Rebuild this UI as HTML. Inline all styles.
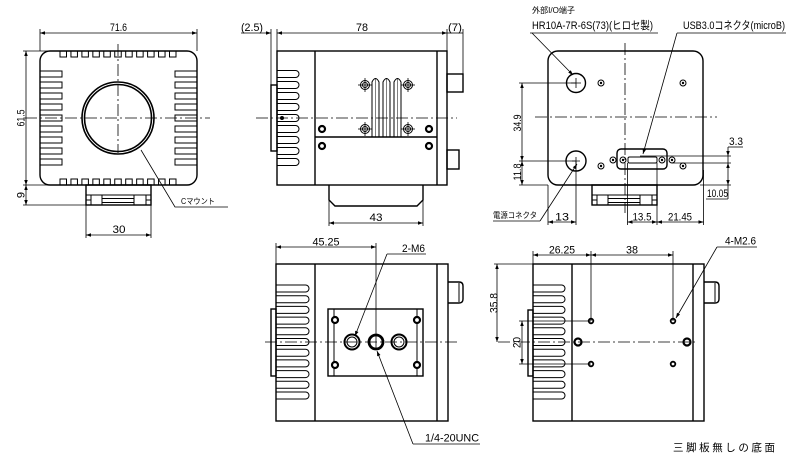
<!DOCTYPE html>
<html>
<head>
<meta charset="utf-8">
<style>
html,body{margin:0;padding:0;background:#fff;}
svg{display:block;}
.o{fill:none;stroke:#000;stroke-width:1.4;}
.t{fill:none;stroke:#000;stroke-width:1.0;}
.c{fill:none;stroke:#000;stroke-width:0.8;stroke-dasharray:12 3 2 3;}
.d{fill:none;stroke:#000;stroke-width:0.8;}
text{font-family:"Liberation Sans","Noto Sans CJK JP",sans-serif;font-size:11px;fill:#000;}
.s{font-size:8px;}
</style>
</head>
<body>
<svg width="800" height="457" viewBox="0 0 800 457" xmlns="http://www.w3.org/2000/svg">
<defs>
<marker id="a" viewBox="0 0 10 10" refX="10" refY="5" markerWidth="6" markerHeight="5" markerUnits="userSpaceOnUse" orient="auto-start-reverse"><path d="M0,1.5 L10,5 L0,8.5 z" fill="#000"/></marker>
<g id="scr2"><circle r="4.5" class="t"/><circle r="2.5" class="t"/><line x1="-7" y1="0" x2="7" y2="0" class="d"/><line x1="0" y1="-7" x2="0" y2="7" class="d"/></g>
<g id="blk"><circle r="3" fill="#fff" stroke="#000" stroke-width="2.2"/></g>
<g id="sm"><circle r="3" class="t"/><circle r="1.2" fill="#000"/></g>
<rect id="ts" width="6.5" height="6" class="t"/>
<rect id="ss" width="22" height="6" class="t"/>
<path id="sl" d="M0,0 H18.5 A3.5,3.5 0 0 1 18.5,7 H0" class="t"/>
<path id="bl" d="M0,0 H29.5 A3.5,3.5 0 0 1 29.5,7 H0" class="t"/>
<path id="br" d="M0,0 H28.5 A3.5,3.5 0 0 1 28.5,7 H0" class="t"/>
<g id="base">
<rect x="0" y="0" width="65" height="20" class="o"/>
<line x1="0" y1="10" x2="65" y2="10" class="t"/>
<line x1="5" y1="10" x2="5" y2="20" class="t"/>
<line x1="16" y1="10" x2="16" y2="20" class="t"/>
<line x1="48" y1="10" x2="48" y2="20" class="t"/>
<line x1="60" y1="10" x2="60" y2="20" class="t"/>
<line x1="16" y1="13.5" x2="48" y2="13.5" class="t"/>
<line x1="16" y1="17.5" x2="48" y2="17.5" class="t"/>
<line x1="0" y1="15" x2="5" y2="15" class="t"/>
<line x1="60" y1="15" x2="65" y2="15" class="t"/>
</g>
</defs>

<!-- ============ FRONT VIEW ============ -->
<rect x="40" y="51" width="157" height="134" rx="10" class="o"/>
<g>
<use href="#ts" x="60" y="51"/><use href="#ts" x="70.95" y="51"/><use href="#ts" x="81.9" y="51"/><use href="#ts" x="92.85" y="51"/><use href="#ts" x="103.8" y="51"/><use href="#ts" x="114.75" y="51"/><use href="#ts" x="125.7" y="51"/><use href="#ts" x="136.65" y="51"/><use href="#ts" x="147.6" y="51"/><use href="#ts" x="158.55" y="51"/><use href="#ts" x="169.5" y="51"/>
<use href="#ts" x="60" y="179"/><use href="#ts" x="70.95" y="179"/><use href="#ts" x="81.9" y="179"/><use href="#ts" x="92.85" y="179"/><use href="#ts" x="103.8" y="179"/><use href="#ts" x="114.75" y="179"/><use href="#ts" x="125.7" y="179"/><use href="#ts" x="136.65" y="179"/><use href="#ts" x="147.6" y="179"/><use href="#ts" x="158.55" y="179"/><use href="#ts" x="169.5" y="179"/>
<use href="#ss" x="40" y="71"/><use href="#ss" x="40" y="82"/><use href="#ss" x="40" y="93"/><use href="#ss" x="40" y="104"/><use href="#ss" x="40" y="115"/><use href="#ss" x="40" y="126"/><use href="#ss" x="40" y="137"/><use href="#ss" x="40" y="148"/><use href="#ss" x="40" y="159"/>
<use href="#ss" x="175" y="71"/><use href="#ss" x="175" y="82"/><use href="#ss" x="175" y="93"/><use href="#ss" x="175" y="104"/><use href="#ss" x="175" y="115"/><use href="#ss" x="175" y="126"/><use href="#ss" x="175" y="137"/><use href="#ss" x="175" y="148"/><use href="#ss" x="175" y="159"/>
</g>
<circle cx="118" cy="118" r="36" fill="none" stroke="#000" stroke-width="1.6"/>
<circle cx="118" cy="118" r="33.5" fill="none" stroke="#000" stroke-width="1.6"/>
<line x1="25" y1="118" x2="210" y2="118" class="c"/>
<line x1="118" y1="44" x2="118" y2="153" class="c"/>
<use href="#base" x="86" y="185"/>
<!-- dims front -->
<line x1="40" y1="29" x2="40" y2="51" class="d"/>
<line x1="197" y1="29" x2="197" y2="51" class="d"/>
<line x1="40" y1="33" x2="197" y2="33" class="d" marker-start="url(#a)" marker-end="url(#a)"/>
<text x="118.5" y="31" text-anchor="middle" textLength="17" lengthAdjust="spacingAndGlyphs">71.6</text>
<line x1="23" y1="51" x2="60" y2="51" class="d"/>
<line x1="23" y1="185" x2="86" y2="185" class="d"/>
<line x1="23" y1="205" x2="86" y2="205" class="d"/>
<line x1="26" y1="51" x2="26" y2="185" class="d" marker-start="url(#a)" marker-end="url(#a)"/>
<line x1="26" y1="185" x2="26" y2="205" class="d" marker-start="url(#a)" marker-end="url(#a)"/>
<text transform="translate(24.5,118) rotate(-90)" text-anchor="middle" textLength="17" lengthAdjust="spacingAndGlyphs">61.5</text>
<text transform="translate(24.5,195) rotate(-90)" text-anchor="middle">9</text>
<line x1="86" y1="205" x2="86" y2="238" class="d"/>
<line x1="151" y1="205" x2="151" y2="238" class="d"/>
<line x1="86" y1="235" x2="151" y2="235" class="d" marker-start="url(#a)" marker-end="url(#a)"/>
<text x="119" y="233" text-anchor="middle" textLength="13" lengthAdjust="spacingAndGlyphs">30</text>
<polyline points="141,150 175,207 228,207" class="d"/>
<text x="181" y="204" class="s" textLength="34" lengthAdjust="spacingAndGlyphs">Cマウント</text>

<!-- ============ SIDE VIEW ============ -->
<rect x="277" y="51" width="170" height="134" class="o"/>
<line x1="315" y1="51" x2="315" y2="185" class="o"/>
<line x1="437" y1="51" x2="437" y2="185" class="o"/>
<line x1="315" y1="137" x2="437" y2="137" class="o"/>
<rect x="271" y="85" width="6" height="66" class="o"/>
<g>
<use href="#sl" x="277" y="70.5"/><use href="#sl" x="277" y="81.5"/><use href="#sl" x="277" y="92.5"/><use href="#sl" x="277" y="103.5"/><use href="#sl" x="277" y="114.5"/><use href="#sl" x="277" y="125.5"/><use href="#sl" x="277" y="136.5"/><use href="#sl" x="277" y="147.5"/><use href="#sl" x="277" y="158.5"/>
</g>
<line x1="256" y1="118" x2="457" y2="118" class="c"/>
<circle cx="282" cy="118" r="2" fill="#000"/>
<use href="#scr2" x="365" y="85"/><use href="#scr2" x="408" y="85"/><use href="#scr2" x="365" y="129"/><use href="#scr2" x="408" y="129"/>
<use href="#blk" x="322" y="129"/><use href="#blk" x="429" y="129"/><use href="#blk" x="322" y="146"/><use href="#blk" x="429" y="146"/>
<path d="M372,137 V82 Q375.5,75 379,82 V137 M383,137 V82 Q386.5,75 390,82 V137 M394,137 V82 Q397.5,75 401,82 V137" class="t"/>
<path d="M375.5,78 V137 M386.5,78 V137 M397.5,78 V137" fill="none" stroke="#000" stroke-width="0.5"/>
<rect x="447" y="74" width="16" height="18" class="o"/>
<rect x="447" y="150" width="12" height="19" class="o"/>
<path d="M329,185 V200 L335,206 H417 L423,200 V185" class="o"/>
<!-- dims side -->
<line x1="271" y1="29" x2="271" y2="85" class="d"/>
<line x1="277" y1="29" x2="277" y2="51" class="d"/>
<line x1="447" y1="29" x2="447" y2="51" class="d"/>
<line x1="463" y1="29" x2="463" y2="74" class="d"/>
<line x1="241" y1="33" x2="271" y2="33" class="d" marker-end="url(#a)"/>
<line x1="277" y1="33" x2="447" y2="33" class="d" marker-start="url(#a)" marker-end="url(#a)"/>
<line x1="447" y1="33" x2="463" y2="33" class="d"/>
<text x="241" y="31" textLength="22" lengthAdjust="spacingAndGlyphs">(2.5)</text>
<text x="362" y="31" text-anchor="middle" textLength="12" lengthAdjust="spacingAndGlyphs">78</text>
<text x="448" y="31" textLength="14" lengthAdjust="spacingAndGlyphs">(7)</text>
<line x1="329" y1="200" x2="329" y2="226" class="d"/>
<line x1="423" y1="200" x2="423" y2="226" class="d"/>
<line x1="329" y1="223" x2="423" y2="223" class="d" marker-start="url(#a)" marker-end="url(#a)"/>
<text x="376" y="221" text-anchor="middle" textLength="13" lengthAdjust="spacingAndGlyphs">43</text>

<!-- ============ BACK VIEW ============ -->
<rect x="548" y="51" width="155" height="134" rx="10" class="o"/>
<use href="#base" x="592" y="185"/>
<circle cx="576" cy="83" r="9.5" class="o"/>
<path d="M571,83 H581 M576,78 V88" class="d"/>
<circle cx="576" cy="161" r="10" class="o"/>
<path d="M572,161 H580 M576,157 V165" class="d"/>
<use href="#sm" x="601" y="83"/><use href="#sm" x="683" y="83"/><use href="#sm" x="601" y="166"/><use href="#sm" x="683" y="166"/>
<rect x="617" y="149" width="50" height="20" rx="4" class="o"/>
<rect x="628" y="157" width="29" height="6" rx="1.5" class="t"/>
<use href="#sm" x="613" y="160"/><use href="#sm" x="623" y="160"/><use href="#sm" x="662" y="160"/><use href="#sm" x="672" y="160"/>
<line x1="625" y1="43" x2="625" y2="213" class="c"/>
<line x1="535" y1="117" x2="717" y2="117" class="c"/>
<!-- dims back -->
<line x1="519" y1="83" x2="576" y2="83" class="d"/>
<line x1="519" y1="161" x2="576" y2="161" class="d"/>
<line x1="519" y1="185" x2="548" y2="185" class="d"/>
<line x1="522" y1="83" x2="522" y2="161" class="d" marker-start="url(#a)" marker-end="url(#a)"/>
<line x1="522" y1="161" x2="522" y2="185" class="d" marker-start="url(#a)" marker-end="url(#a)"/>
<text transform="translate(521,123) rotate(-90)" text-anchor="middle" textLength="17" lengthAdjust="spacingAndGlyphs">34.9</text>
<text transform="translate(521,172) rotate(-90)" text-anchor="middle" textLength="17" lengthAdjust="spacingAndGlyphs">11.8</text>
<line x1="548" y1="185" x2="548" y2="225" class="d"/>
<line x1="576" y1="161" x2="576" y2="225" class="d"/>
<line x1="548" y1="222" x2="576" y2="222" class="d" marker-start="url(#a)" marker-end="url(#a)"/>
<text x="562" y="220.5" text-anchor="middle" textLength="14" lengthAdjust="spacingAndGlyphs">13</text>
<line x1="627.5" y1="163" x2="627.5" y2="225" class="d"/>
<line x1="657" y1="163" x2="657" y2="225" class="d"/>
<line x1="703.5" y1="170" x2="703.5" y2="225" class="d"/>
<line x1="627.5" y1="222" x2="657" y2="222" class="d" marker-start="url(#a)" marker-end="url(#a)"/>
<line x1="657" y1="222" x2="703.5" y2="222" class="d" marker-start="url(#a)" marker-end="url(#a)"/>
<text x="642" y="220.5" text-anchor="middle" textLength="19" lengthAdjust="spacingAndGlyphs">13.5</text>
<text x="680" y="220.5" text-anchor="middle" textLength="24" lengthAdjust="spacingAndGlyphs">21.45</text>
<line x1="640" y1="156" x2="731" y2="156" class="d"/>
<line x1="672" y1="163" x2="731" y2="163" class="d"/>
<line x1="700" y1="185" x2="731" y2="185" class="d"/>
<line x1="728" y1="147" x2="728" y2="156" class="d" marker-end="url(#a)"/>
<line x1="728" y1="156" x2="728" y2="163" class="d"/>
<line x1="728" y1="163" x2="728" y2="185" class="d" marker-start="url(#a)" marker-end="url(#a)"/>
<line x1="728" y1="185" x2="728" y2="199" class="d"/>
<line x1="728" y1="147" x2="743" y2="147" class="d"/>
<text x="729" y="145" textLength="14" lengthAdjust="spacingAndGlyphs">3.3</text>
<line x1="706" y1="199" x2="728" y2="199" class="d"/>
<text x="707" y="197" textLength="21" lengthAdjust="spacingAndGlyphs">10.05</text>
<!-- leaders back -->
<text x="532" y="13" class="s" textLength="43" lengthAdjust="spacingAndGlyphs">外部I/O端子</text>
<text x="532" y="29" textLength="121" lengthAdjust="spacingAndGlyphs">HR10A-7R-6S(73)(ヒロセ製)</text>
<line x1="530" y1="33" x2="658" y2="33" class="d"/>
<line x1="532" y1="33" x2="573" y2="75" class="d" marker-end="url(#a)"/>
<text x="683" y="29" textLength="102" lengthAdjust="spacingAndGlyphs">USB3.0コネクタ(microB)</text>
<line x1="677" y1="33" x2="786" y2="33" class="d"/>
<line x1="677" y1="33" x2="643" y2="154" class="d" marker-end="url(#a)"/>
<text x="493" y="218" class="s" textLength="44" lengthAdjust="spacingAndGlyphs">電源コネクタ</text>
<line x1="493" y1="221" x2="540" y2="221" class="d"/>
<line x1="540" y1="221" x2="577" y2="164" class="d" marker-end="url(#a)"/>

<!-- ============ BOTTOM-LEFT VIEW ============ -->
<rect x="276" y="264" width="172" height="157" class="o"/>
<line x1="315" y1="264" x2="315" y2="421" class="o"/>
<line x1="437" y1="264" x2="437" y2="421" class="o"/>
<rect x="271" y="309" width="5" height="67" class="o"/>
<g>
<use href="#bl" x="276" y="285"/><use href="#bl" x="276" y="295.7"/><use href="#bl" x="276" y="306.4"/><use href="#bl" x="276" y="317.1"/><use href="#bl" x="276" y="327.8"/><use href="#bl" x="276" y="338.5"/><use href="#bl" x="276" y="349.2"/><use href="#bl" x="276" y="359.9"/><use href="#bl" x="276" y="370.6"/><use href="#bl" x="276" y="381.3"/><use href="#bl" x="276" y="392"/>
</g>
<rect x="328" y="309" width="95" height="67" class="o"/>
<line x1="334" y1="309" x2="334" y2="376" class="t"/>
<line x1="417" y1="309" x2="417" y2="376" class="t"/>
<use href="#blk" x="335" y="320"/><use href="#blk" x="417" y="320"/><use href="#blk" x="335" y="365"/><use href="#blk" x="417" y="365"/>
<circle cx="352" cy="342" r="7.5" fill="none" stroke="#000" stroke-width="2"/>
<circle cx="352" cy="342" r="5" class="t"/>
<circle cx="376" cy="342" r="7" fill="none" stroke="#000" stroke-width="2.8"/>
<circle cx="399" cy="342" r="7.5" fill="none" stroke="#000" stroke-width="2"/>
<circle cx="399" cy="342" r="5" class="t"/>
<line x1="265" y1="342" x2="458" y2="342" class="c"/>
<path d="M448,282 H459 Q463,282 463,286 V299 Q463,303 459,303 H448" class="o"/>
<line x1="459" y1="283" x2="459" y2="302" class="t"/>
<!-- dims bottom-left -->
<line x1="276" y1="243" x2="276" y2="264" class="d"/>
<line x1="376" y1="243" x2="376" y2="350" class="d"/>
<line x1="276" y1="247" x2="376" y2="247" class="d" marker-start="url(#a)" marker-end="url(#a)"/>
<text x="326" y="245.5" text-anchor="middle" textLength="27" lengthAdjust="spacingAndGlyphs">45.25</text>
<text x="402" y="252" textLength="23" lengthAdjust="spacingAndGlyphs">2-M6</text>
<line x1="387" y1="254" x2="426" y2="254" class="d"/>
<line x1="387" y1="254" x2="355" y2="336" class="d" marker-end="url(#a)"/>
<text x="425" y="441.5" textLength="54" lengthAdjust="spacingAndGlyphs">1/4-20UNC</text>
<line x1="413" y1="444" x2="480" y2="444" class="d"/>
<line x1="413" y1="444" x2="377" y2="351" class="d" marker-end="url(#a)"/>

<!-- ============ BOTTOM-RIGHT VIEW ============ -->
<rect x="533" y="264" width="171" height="157" class="o"/>
<line x1="572" y1="264" x2="572" y2="421" class="o"/>
<line x1="693" y1="264" x2="693" y2="421" class="o"/>
<rect x="528" y="310" width="5" height="66" class="o"/>
<g>
<use href="#br" x="533" y="285"/><use href="#br" x="533" y="295.7"/><use href="#br" x="533" y="306.4"/><use href="#br" x="533" y="317.1"/><use href="#br" x="533" y="327.8"/><use href="#br" x="533" y="338.5"/><use href="#br" x="533" y="349.2"/><use href="#br" x="533" y="359.9"/><use href="#br" x="533" y="370.6"/><use href="#br" x="533" y="381.3"/><use href="#br" x="533" y="392"/>
</g>
<path d="M704,282 H715 Q719,282 719,286 V299 Q719,303 715,303 H704" class="o"/>
<line x1="715" y1="283" x2="715" y2="302" class="t"/>
<circle cx="591" cy="321" r="2.3" fill="#fff" stroke="#000" stroke-width="1.8"/>
<circle cx="673" cy="321" r="2.3" fill="#fff" stroke="#000" stroke-width="1.8"/>
<circle cx="591" cy="364" r="2.3" fill="#fff" stroke="#000" stroke-width="1.8"/>
<circle cx="673" cy="364" r="2.3" fill="#fff" stroke="#000" stroke-width="1.8"/>
<circle cx="578" cy="342" r="3.5" fill="#fff" stroke="#000" stroke-width="2.2"/>
<circle cx="687" cy="342" r="3.5" fill="#fff" stroke="#000" stroke-width="2.2"/>
<line x1="498" y1="342" x2="695" y2="342" class="c"/>
<!-- dims bottom-right -->
<line x1="533" y1="251" x2="533" y2="264" class="d"/>
<line x1="591" y1="251" x2="591" y2="321" class="d"/>
<line x1="673" y1="251" x2="673" y2="321" class="d"/>
<line x1="533" y1="255" x2="591" y2="255" class="d" marker-start="url(#a)" marker-end="url(#a)"/>
<line x1="591" y1="255" x2="673" y2="255" class="d" marker-start="url(#a)" marker-end="url(#a)"/>
<text x="562" y="253.5" text-anchor="middle" textLength="26" lengthAdjust="spacingAndGlyphs">26.25</text>
<text x="632" y="253.5" text-anchor="middle" textLength="12" lengthAdjust="spacingAndGlyphs">38</text>
<line x1="494" y1="264" x2="533" y2="264" class="d"/>
<line x1="497" y1="264" x2="497" y2="342" class="d" marker-start="url(#a)" marker-end="url(#a)"/>
<text transform="translate(497.5,303) rotate(-90)" text-anchor="middle" textLength="20" lengthAdjust="spacingAndGlyphs">35.8</text>
<line x1="519" y1="321" x2="591" y2="321" class="d"/>
<line x1="519" y1="364" x2="591" y2="364" class="d"/>
<line x1="522" y1="321" x2="522" y2="364" class="d" marker-start="url(#a)" marker-end="url(#a)"/>
<text transform="translate(520.5,342.5) rotate(-90)" text-anchor="middle" textLength="11" lengthAdjust="spacingAndGlyphs">20</text>
<text x="725" y="244.5" textLength="31" lengthAdjust="spacingAndGlyphs">4-M2.6</text>
<line x1="717" y1="247" x2="757" y2="247" class="d"/>
<line x1="717" y1="247" x2="676" y2="318" class="d" marker-end="url(#a)"/>
<text x="673" y="451" textLength="102" lengthAdjust="spacing" style="font-size:10.5px">三脚板無しの底面</text>
</svg>
</body>
</html>
